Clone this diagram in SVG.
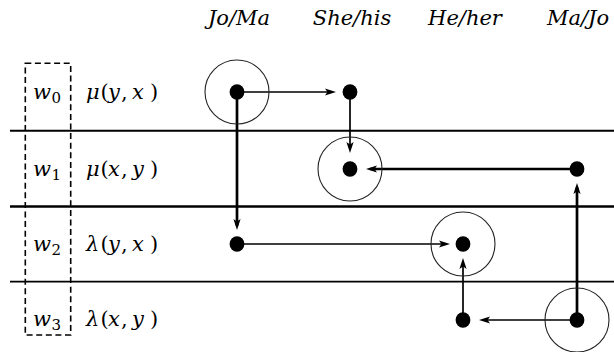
<svg xmlns="http://www.w3.org/2000/svg" width="614" height="352" viewBox="0 0 614 352">
<style>
text{font-family:'DejaVu Serif','Liberation Serif','Noto Serif',serif;fill:#000}
.hdr{font-style:italic;font-size:21px;text-anchor:middle}
.lbl{font-size:21px}
.it{font-style:italic}
.sub{font-size:15px}
.sep{stroke:#000;fill:none}
.box{fill:none;stroke:#000;stroke-width:1.6;stroke-dasharray:6 3.6}
.dot{fill:#000}
.ring{fill:none;stroke:#222;stroke-width:1.1}
.thin{stroke:#000;stroke-width:1.7;fill:none;marker-end:url(#ah)}
.thick{stroke:#000;stroke-width:2.7;fill:none;marker-end:url(#ah)}
</style>
<defs>
<marker id="ah" viewBox="-8 -5 13 10" refX="0" refY="0" markerWidth="13" markerHeight="10" markerUnits="userSpaceOnUse" orient="auto">
<path d="M4,0 L-7,-3.6 L-4.6,0 L-7,3.6 Z" fill="#000"/>
</marker>
</defs>

<g id="headers">
<text class="hdr" x="239" y="25">Jo/Ma</text>
<text class="hdr" x="352" y="25">She/his</text>
<text class="hdr" x="465" y="25">He/her</text>
<text class="hdr" x="578" y="25">Ma/Jo</text>
</g>

<g id="separators">
<line class="sep" x1="10" y1="130.7" x2="614" y2="130.7" stroke-width="2"/>
<line class="sep" x1="10" y1="206.5" x2="614" y2="206.5" stroke-width="2.6"/>
<line class="sep" x1="10" y1="281.6" x2="614" y2="281.6" stroke-width="1.9"/>
</g>

<g id="worlds">
<rect class="box" x="25.3" y="63.3" width="45.4" height="271.7"/>
<text class="lbl" y="99"><tspan class="it" x="33">w</tspan><tspan class="sub" x="51.5" dy="3.5">0</tspan></text>
<text class="lbl" y="176"><tspan class="it" x="33">w</tspan><tspan class="sub" x="51.5" dy="3.5">1</tspan></text>
<text class="lbl" y="251"><tspan class="it" x="33">w</tspan><tspan class="sub" x="51.5" dy="3.5">2</tspan></text>
<text class="lbl" y="326"><tspan class="it" x="33">w</tspan><tspan class="sub" x="51.5" dy="3.5">3</tspan></text>
</g>

<g id="relations">
<text class="lbl" y="99"><tspan class="it" x="86">μ</tspan><tspan x="100.5">(</tspan><tspan class="it" x="108">y</tspan><tspan x="121">,</tspan><tspan class="it" x="132">x</tspan><tspan x="150">)</tspan></text>
<text class="lbl" y="176"><tspan class="it" x="86">μ</tspan><tspan x="100.5">(</tspan><tspan class="it" x="108">x</tspan><tspan x="121">,</tspan><tspan class="it" x="132">y</tspan><tspan x="150">)</tspan></text>
<text class="lbl" y="251"><tspan class="it" x="86">λ</tspan><tspan x="100.5">(</tspan><tspan class="it" x="108">y</tspan><tspan x="121">,</tspan><tspan class="it" x="132">x</tspan><tspan x="150">)</tspan></text>
<text class="lbl" y="326"><tspan class="it" x="86">λ</tspan><tspan x="100.5">(</tspan><tspan class="it" x="108">x</tspan><tspan x="121">,</tspan><tspan class="it" x="132">y</tspan><tspan x="150">)</tspan></text>
</g>

<g id="connectors">
<line class="thin" x1="237" y1="92" x2="332" y2="92"/>
<line class="thin" x1="350" y1="92" x2="350" y2="149"/>
<line class="thick" x1="577" y1="169" x2="370" y2="169"/>
<line class="thick" x1="237" y1="92" x2="237" y2="226"/>
<line class="thin" x1="237" y1="244" x2="446" y2="244"/>
<line class="thin" x1="463" y1="320" x2="463" y2="262"/>
<line class="thin" x1="577" y1="320" x2="483" y2="320"/>
<line class="thick" x1="577" y1="320" x2="577" y2="187"/>
</g>

<g id="n-w0-joma"><circle class="ring" cx="237" cy="92" r="32"/><ellipse class="dot" cx="237" cy="92" rx="7.4" ry="7.8"/></g>
<g id="n-w0-shehis"><ellipse class="dot" cx="350" cy="92" rx="7.4" ry="7.8"/></g>
<g id="n-w1-shehis"><circle class="ring" cx="350" cy="169" r="32"/><ellipse class="dot" cx="350" cy="169" rx="7.4" ry="7.8"/></g>
<g id="n-w1-majo"><ellipse class="dot" cx="577" cy="169" rx="7.4" ry="7.8"/></g>
<g id="n-w2-joma"><ellipse class="dot" cx="237" cy="244" rx="7.4" ry="7.8"/></g>
<g id="n-w2-heher"><circle class="ring" cx="463" cy="244" r="32"/><ellipse class="dot" cx="463" cy="244" rx="7.4" ry="7.8"/></g>
<g id="n-w3-heher"><ellipse class="dot" cx="463" cy="320" rx="7.4" ry="7.8"/></g>
<g id="n-w3-majo"><circle class="ring" cx="577" cy="320" r="32"/><ellipse class="dot" cx="577" cy="320" rx="7.4" ry="7.8"/></g>
</svg>
